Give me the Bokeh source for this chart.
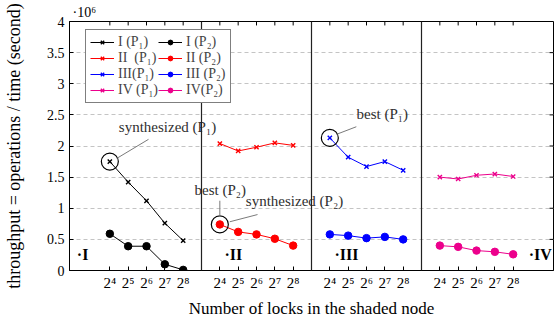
from bokeh.plotting import figure
from bokeh.models import Range1d, FixedTicker, Span, Legend, LegendItem
from bokeh.core.properties import value
from bokeh.embed import file_html
from bokeh.resources import INLINE

# ---- data (throughput, x10^6 operations / second) ----
lock_labels = ["2\u2074", "2\u2075", "2\u2076", "2\u2077", "2\u2078"]
groups = ["I", "II", "III", "IV"]
I_p1 = [1.75, 1.42, 1.12, 0.76, 0.48]
I_p2 = [0.59, 0.39, 0.39, 0.10, 0.01]
II_p1 = [2.04, 1.92, 1.98, 2.05, 2.01]
II_p2 = [0.74, 0.62, 0.58, 0.51, 0.40]
III_p1 = [2.13, 1.82, 1.67, 1.75, 1.61]
III_p2 = [0.58, 0.56, 0.52, 0.54, 0.50]
IV_p1 = [1.50, 1.47, 1.53, 1.55, 1.51]
IV_p2 = [0.40, 0.38, 0.32, 0.30, 0.26]
y_ticks = [0, 0.5, 1, 1.5, 2, 2.5, 3, 3.5, 4]
y_tick_labels = ["0", "0.5", "1", "1.5", "2", "2.5", "3", "3.5", "4"]

p1_series = [I_p1, II_p1, III_p1, IV_p1]
p2_series = [I_p2, II_p2, III_p2, IV_p2]
colors = ["black", "#ff0000", "#0000ff", "#ec008c"]
p1_names = ["I (P\u2081)", "II  (P\u2081)", "III(P\u2081)", "IV (P\u2081)"]
p2_names = ["I (P\u2082)", "II (P\u2082)", "III (P\u2082)", "IV(P\u2082)"]

SERIF = "Liberation Serif"
GAP = 6
X0, X1 = -2.2, 24.2
FW, FH = 488, 252

def xs(g):
    return [g * GAP + k for k in range(len(lock_labels))]

def dx(px):
    return px * (X1 - X0) / FW

def dy(px):
    return px * 4.0 / FH

p = figure(width=556, height=320, output_backend="svg", toolbar_location=None,
           x_range=Range1d(X0, X1), y_range=Range1d(0, 4),
           min_border_left=65, min_border_right=3, min_border_top=21, min_border_bottom=47,
           title="\u00b710\u2076")
p.background_fill_color = "white"
p.border_fill_color = "white"
p.outline_line_color = "black"
p.outline_line_width = 1

p.title.align = "left"
p.title.offset = 3
p.title.standoff = 3
p.title.text_font = SERIF
p.title.text_font_size = "14px"
p.title.text_font_style = "normal"
p.title.text_color = "black"

x_ticks = [x for g in range(len(groups)) for x in xs(g)]
xax = p.xaxis[0]
yax = p.yaxis[0]
xax.ticker = FixedTicker(ticks=x_ticks)
xax.major_label_overrides = {x: lock_labels[i % len(lock_labels)] for i, x in enumerate(x_ticks)}
yax.ticker = FixedTicker(ticks=y_ticks)
yax.major_label_overrides = {t: l for t, l in zip(y_ticks, y_tick_labels)}

xax.axis_label = "Number of locks in the shaded node"
yax.axis_label = "throughput = operations / time (second)"

for ax in (xax, yax):
    ax.major_tick_in = 4
    ax.major_tick_out = 0
    ax.minor_tick_in = 0
    ax.minor_tick_out = 0
    ax.axis_line_color = "black"
    ax.major_tick_line_color = "black"
    ax.major_label_text_font = SERIF
    ax.major_label_text_color = "black"
    ax.axis_label_text_font = SERIF
    ax.axis_label_text_font_style = "normal"
    ax.axis_label_text_color = "black"

xax.major_label_text_font_size = "15px"
xax.major_label_standoff = 4
xax.axis_label_text_font_size = "17px"
xax.axis_label_standoff = 5
yax.major_label_text_font_size = "14px"
yax.major_label_standoff = 5
yax.axis_label_text_font_size = "18px"
yax.axis_label_standoff = 20

# mirrored inward ticks on top and right
TL = 4
p.segment(x0=x_ticks, y0=[4] * len(x_ticks), x1=x_ticks, y1=[4 - dy(TL)] * len(x_ticks),
          line_color="black", line_width=1)
p.segment(x0=[X1] * len(y_ticks), y0=y_ticks, x1=[X1 - dx(TL)] * len(y_ticks), y1=y_ticks,
          line_color="black", line_width=1)

p.xgrid.visible = False
p.ygrid.grid_line_color = "#c4c4c4"
p.ygrid.grid_line_dash = "4 3"
p.ygrid.grid_line_width = 1

for g in range(1, len(groups)):
    p.add_layout(Span(location=g * GAP - 1, dimension="height", line_color="#222222", line_width=1.2))

items1, items2 = [], []
for g in range(len(groups)):
    c = colors[g]
    l1 = p.line(xs(g), p1_series[g], line_color=c, line_width=1)
    m1 = p.scatter(xs(g), p1_series[g], marker="x", size=6, line_color=c, line_width=1.4)
    l2 = p.line(xs(g), p2_series[g], line_color=c, line_width=1)
    m2 = p.scatter(xs(g), p2_series[g], marker="circle", size=7.5, fill_color=c, line_color=c)
    items1.append(LegendItem(label=p1_names[g], renderers=[l1, m1]))
    items2.append(LegendItem(label=p2_names[g], renderers=[l2, m2]))

legend = Legend(items=items1 + items2, ncols=2, location=(16, 167),
                border_line_color="black", border_line_width=1,
                background_fill_color="white", background_fill_alpha=1,
                label_text_font=SERIF, label_text_font_size="14px",
                glyph_width=24, glyph_height=12, label_standoff=4,
                label_height=15, label_width=40,
                spacing=0, padding=4, margin=0)
p.add_layout(legend, "center")

# group labels
gl_x = [-1.8, 6.25, 12.25, 22.85]
p.text(gl_x, [0.25] * 4, text=["\u00b7" + g for g in groups], text_font=value(SERIF),
       text_font_style="bold", text_font_size="16px", text_align="left",
       text_baseline="middle", text_color="black")

# annotation circles
ann_x = [xs(0)[0], xs(1)[0], xs(2)[0]]
ann_y = [I_p1[0], II_p2[0], III_p1[0]]
p.scatter(ann_x, ann_y, marker="circle", size=17, fill_color=None, line_color="black", line_width=1.2)

ANN_C = "#303030"
LINE_C = "#7a7a7a"

def ann_line(ax_, ay_, a, b):
    p.segment(x0=[ax_ + dx(a[0])], y0=[ay_ + dy(a[1])], x1=[ax_ + dx(b[0])], y1=[ay_ + dy(b[1])],
              line_color=LINE_C, line_width=1)

def ann_text(ax_, ay_, txt, ox, oy, align="left"):
    p.text([ax_], [ay_], text=[txt], x_offset=ox, y_offset=-oy, text_font=value(SERIF),
           text_font_size="15px", text_align=align, text_baseline="middle", text_color=ANN_C)

# synthesized (P1)
ann_line(ann_x[0], ann_y[0], (7, 3.2), (39, 22.5))
ann_text(ann_x[0], ann_y[0], "synthesized (P\u2081)", 9, 35)
# best (P2) / synthesized (P2)
ann_line(ann_x[1], ann_y[1], (0, 8), (0, 24))
ann_text(ann_x[1], ann_y[1], "best (P\u2082)", 0.5, 34.5, "center")
ann_line(ann_x[1], ann_y[1], (10, 2.7), (38, 10))
ann_text(ann_x[1], ann_y[1], "synthesized (P\u2082)", 26, 23.7)
# best (P1)
ann_line(ann_x[2], ann_y[2], (6.7, 3.6), (26.7, 11.3))
ann_text(ann_x[2], ann_y[2], "best (P\u2081)", 26.7, 24.3)

open("out.html", "w").write(file_html(p, INLINE))
